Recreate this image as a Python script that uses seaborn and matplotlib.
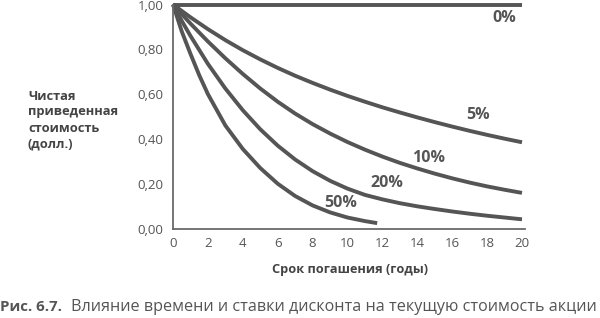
import matplotlib
matplotlib.use("Agg")
import matplotlib.pyplot as plt
import seaborn as sns
import pandas as pd

# Data
years = list(range(0, 21))
pv_0 = [1.0] * 21
pv_5 = [1.000, 0.943, 0.890, 0.841, 0.796, 0.755, 0.717, 0.682, 0.650, 0.620, 0.592,
        0.566, 0.541, 0.518, 0.496, 0.475, 0.455, 0.436, 0.418, 0.401, 0.385]
pv_10 = [1.000, 0.915, 0.835, 0.760, 0.690, 0.625, 0.566, 0.513, 0.466, 0.424, 0.386,
         0.352, 0.321, 0.293, 0.268, 0.245, 0.224, 0.205, 0.188, 0.173, 0.159]
years_20 = [0, 0.5, 1, 2, 3, 4, 5, 6, 7, 8, 9, 10, 11, 12, 13, 14, 15, 16, 17, 18, 19, 20]
pv_20 = [1.000, 0.927, 0.860, 0.735, 0.625, 0.528, 0.443, 0.370, 0.308, 0.256, 0.213, 0.178,
         0.150, 0.130, 0.113, 0.099, 0.087, 0.076, 0.066, 0.057, 0.049, 0.041]
years_50 = [0, 0.5, 1, 1.5, 2, 3, 4, 5, 6, 7, 8, 9, 10, 11, 11.7]
pv_50 = [1.00, 0.88, 0.78, 0.685, 0.60, 0.46, 0.355, 0.27, 0.20, 0.145, 0.103, 0.072,
         0.049, 0.033, 0.024]

series_labels = ["0%", "5%", "10%", "20%", "50%"]
label_pos_x = [18.97, 17.48, 14.67, 12.26, 9.63]
label_pos_y = [0.94, 0.507, 0.315, 0.203, 0.114]

x_ticks = [0, 2, 4, 6, 8, 10, 12, 14, 16, 18, 20]
y_ticks = [0.0, 0.2, 0.4, 0.6, 0.8, 1.0]
y_tick_labels = ["0,00", "0,20", "0,40", "0,60", "0,80", "1,00"]

frames = []
for lab, xs, ys in zip(series_labels,
                       [years, years, years, years_20, years_50],
                       [pv_0, pv_5, pv_10, pv_20, pv_50]):
    frames.append(pd.DataFrame({"year": xs, "pv": ys, "rate": lab}))
df = pd.concat(frames, ignore_index=True)

sns.set_theme(style="white")
plt.rcParams["font.family"] = ["Open Sans", "DejaVu Sans"]

LINE = "#555555"
TXT = "#555555"

fig = plt.figure(figsize=(6.0, 3.18), dpi=100)
ax = fig.add_axes([173 / 600, 1 - 228.5 / 318, (522 - 173) / 600, (228.5 - 4.5) / 318])

sns.lineplot(data=df, x="year", y="pv", hue="rate", hue_order=series_labels,
             palette={l: LINE for l in series_labels}, linewidth=2.8,
             legend=False, ax=ax, sort=False, estimator=None)
for ln in ax.lines:
    ln.set_clip_on(False)
    ln.set_solid_capstyle("butt")
    ln.set_solid_joinstyle("round")

ax.set_xlim(0, 20)
ax.set_ylim(0, 1)
ax.set_xticks(x_ticks)
ax.set_xticklabels([str(v) for v in x_ticks])
ax.set_yticks(y_ticks)
ax.set_yticklabels(y_tick_labels)
ax.tick_params(axis="both", length=0, labelsize=9.5, labelcolor=TXT)
ax.tick_params(axis="y", pad=7)
ax.tick_params(axis="x", pad=6)

for s in ["top", "right"]:
    ax.spines[s].set_visible(False)
for s in ["left", "bottom"]:
    ax.spines[s].set_color("#6a6a6a")
    ax.spines[s].set_linewidth(1.3)
ax.spines["bottom"].set_bounds(0, 20.2)
ax.spines["bottom"].set_clip_on(False)

ax.set_xlabel("")
ax.set_ylabel("")

for lab, lx, ly in zip(series_labels, label_pos_x, label_pos_y):
    ax.text(lx, ly, lab, fontsize=11.5, fontweight="bold", color=TXT,
            ha="center", va="center")

fig.text(28 / 600, 1 - 120 / 318, "Чистая\nприведенная\nстоимость\n(долл.)",
         fontsize=9.3, fontweight="bold", color="#444444", ha="left",
         va="center", linespacing=1.3)

fig.text(350 / 600, 1 - 270 / 318, "Срок погашения (годы)", fontsize=9.2,
         fontweight="bold", color="#444444", ha="center", va="center")

fig.text(0.0, 1 - 307 / 318, "Рис. 6.7.", fontsize=10.8, fontweight="bold",
         color="#555555", ha="left", va="center")
fig.text(71 / 600, 1 - 307 / 318,
         "Влияние времени и ставки дисконта на текущую стоимость акции",
         fontsize=11.6, color="#555555", ha="left", va="center")

fig.savefig("out.png", dpi=100)
